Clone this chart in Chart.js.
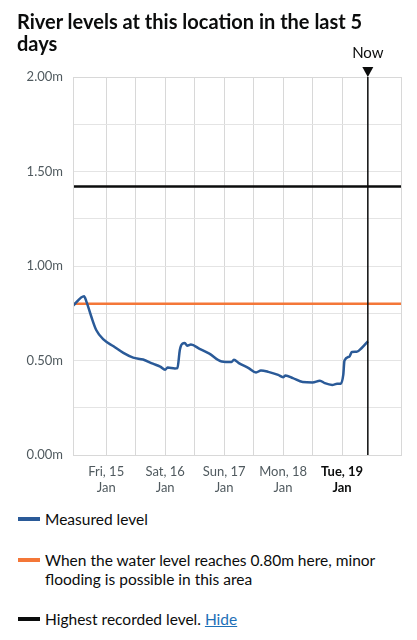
<!DOCTYPE html>
<html>
<head>
<meta charset="utf-8">
<script src="https://cdn.jsdelivr.net/npm/chart.js@4"></script>
<style>
    body { margin: 0; background: #fff; font-family: Lato, "Noto Sans", sans-serif; color: #0b0c0c; }
    #wrap { position: relative; width: 417px; height: 640px; }
    h2 { position: absolute; left: 17px; top: 10px; margin: 0; font-size: 20px; line-height: 22px; font-weight: bold; z-index: 2; }
    #chartBox { position: absolute; left: 0; top: 0; width: 417px; height: 500px; }
    .legend { position: absolute; left: 18px; width: 390px; font-size: 15.5px; line-height: 19px; }
    .legend .key { position: absolute; left: 0; top: 7px; width: 22px; height: 4px; }
    .legend .txt { margin-left: 27px; }
    .legend a { color: #1d70b8; text-decoration: underline; }
</style>
</head>
<body>
<div id="wrap">
    <h2>River levels at this location in the last 5<br>days</h2>
    <div id="chartBox"><canvas id="levelChart"></canvas></div>

    <div class="legend" style="top: 510px;">
        <span class="key" style="background:#2a5a98"></span>
        <div class="txt">Measured level</div>
    </div>
    <div class="legend" style="top: 551px;">
        <span class="key" style="background:#f47738"></span>
        <div class="txt">When the water level reaches 0.80m here, minor flooding is possible in this area</div>
    </div>
    <div class="legend" style="top: 610px;">
        <span class="key" style="background:#0b0c0c"></span>
        <div class="txt">Highest recorded level. <a href="#">Hide</a></div>
    </div>
</div>

<script>
// hours from Fri 15 Jan 00:00
const readingHours = [-13.5, -9, -8, -6, -4, -1, 3, 7, 11, 15, 19, 22, 24, 25, 28, 29, 30, 31, 32, 33, 34.5, 38, 42, 47, 51, 52, 54, 58, 61, 63, 66, 70, 72, 73, 76, 80, 84, 87, 89, 92, 94, 95.5, 96.5, 97, 99, 100, 102, 104, 106.5];
const readingLevels = [0.79, 0.84, 0.81, 0.73, 0.66, 0.61, 0.575, 0.54, 0.515, 0.505, 0.483, 0.468, 0.451, 0.463, 0.458, 0.46, 0.557, 0.589, 0.592, 0.578, 0.584, 0.562, 0.536, 0.495, 0.492, 0.504, 0.486, 0.46, 0.437, 0.447, 0.44, 0.424, 0.412, 0.421, 0.407, 0.386, 0.384, 0.393, 0.38, 0.371, 0.377, 0.377, 0.424, 0.50, 0.521, 0.545, 0.546, 0.566, 0.601];

const floodThreshold = 0.80;
const highestLevel = 1.42;

const startHour = -13.5;
const nowHour = 106.5;
const endHour = 120;

const dayHours = [0, 24, 48, 72, 96];
const dayLabels = [["Fri, 15", "Jan"], ["Sat, 16", "Jan"], ["Sun, 17", "Jan"], ["Mon, 18", "Jan"], ["Tue, 19", "Jan"]];
const gridHours = [0, 12, 24, 36, 48, 60, 72, 84, 96];

const tickFont = "Lato, 'Noto Sans', sans-serif";

const frameAndNow = {
    id: 'frameAndNow',
    afterDraw(chart) {
        const { ctx, chartArea } = chart;
        const x = chart.scales.x.getPixelForValue(nowHour);
        ctx.save();
        ctx.strokeStyle = '#d8d8d8';
        ctx.lineWidth = 1;
        ctx.strokeRect(chartArea.left + 0.5, chartArea.top + 0.5, chartArea.width, chartArea.height);

        ctx.strokeStyle = '#0b0c0c';
        ctx.lineWidth = 1.5;
        ctx.beginPath();
        ctx.moveTo(x, chartArea.top);
        ctx.lineTo(x, chartArea.bottom);
        ctx.stroke();

        ctx.fillStyle = '#0b0c0c';
        ctx.beginPath();
        ctx.moveTo(x - 5.5, chartArea.top - 10);
        ctx.lineTo(x + 5.5, chartArea.top - 10);
        ctx.lineTo(x, chartArea.top);
        ctx.closePath();
        ctx.fill();

        ctx.font = "15px " + tickFont;
        ctx.textAlign = 'center';
        ctx.textBaseline = 'alphabetic';
        ctx.fillText('Now', x, chartArea.top - 19);
        ctx.restore();
    }
};

const ctx = document.getElementById('levelChart').getContext('2d');
new Chart(ctx, {
    type: 'line',
    data: {
        datasets: [
            {
                label: 'Measured level',
                data: readingHours.map((h, i) => ({ x: h, y: readingLevels[i] })),
                borderColor: '#2a5a98',
                borderWidth: 2.5,
                pointRadius: 0,
                cubicInterpolationMode: 'monotone',
                order: 0
            },
            {
                label: 'Flood threshold',
                data: [{ x: startHour, y: floodThreshold }, { x: endHour, y: floodThreshold }],
                borderColor: '#f47738',
                borderWidth: 2.5,
                pointRadius: 0,
                order: 1
            },
            {
                label: 'Highest recorded level',
                data: [{ x: startHour, y: highestLevel }, { x: endHour, y: highestLevel }],
                borderColor: '#0b0c0c',
                borderWidth: 2.5,
                pointRadius: 0,
                order: 2
            }
        ]
    },
    options: {
        responsive: true,
        maintainAspectRatio: false,
        animation: false,
        layout: { padding: { top: 77, right: 16, left: 0, bottom: 0 } },
        plugins: {
            legend: { display: false },
            tooltip: { enabled: false }
        },
        scales: {
            x: {
                type: 'linear',
                min: startHour,
                max: endHour,
                afterBuildTicks: (scale) => {
                    scale.ticks = gridHours.map(v => ({ value: v }));
                },
                afterFit: (scale) => { scale.height = 45; },
                grid: { color: '#d8d8d8', drawTicks: false },
                border: { color: '#d8d8d8' },
                ticks: {
                    autoSkip: false,
                    maxRotation: 0,
                    padding: 9,
                    color: (c) => c.tick && c.tick.value === 96 ? '#0b0c0c' : '#505a5f',
                    font: (c) => ({
                        family: tickFont,
                        size: 13,
                        lineHeight: 1.2,
                        weight: c.tick && c.tick.value === 96 ? 'bold' : 'normal'
                    }),
                    callback: (value) => {
                        const i = dayHours.indexOf(value);
                        return i >= 0 ? dayLabels[i] : '';
                    }
                }
            },
            y: {
                min: 0,
                max: 2,
                afterFit: (scale) => { scale.width = 73; },
                grid: { color: '#e4e4e4', drawTicks: false },
                border: { color: '#d8d8d8' },
                ticks: {
                    stepSize: 0.25,
                    padding: 10,
                    color: '#505a5f',
                    font: { family: tickFont, size: 13 },
                    callback: (value) => (value * 2) % 1 === 0 ? value.toFixed(2) + 'm' : ''
                }
            }
        }
    },
    plugins: [frameAndNow]
});
</script>
</body>
</html>
